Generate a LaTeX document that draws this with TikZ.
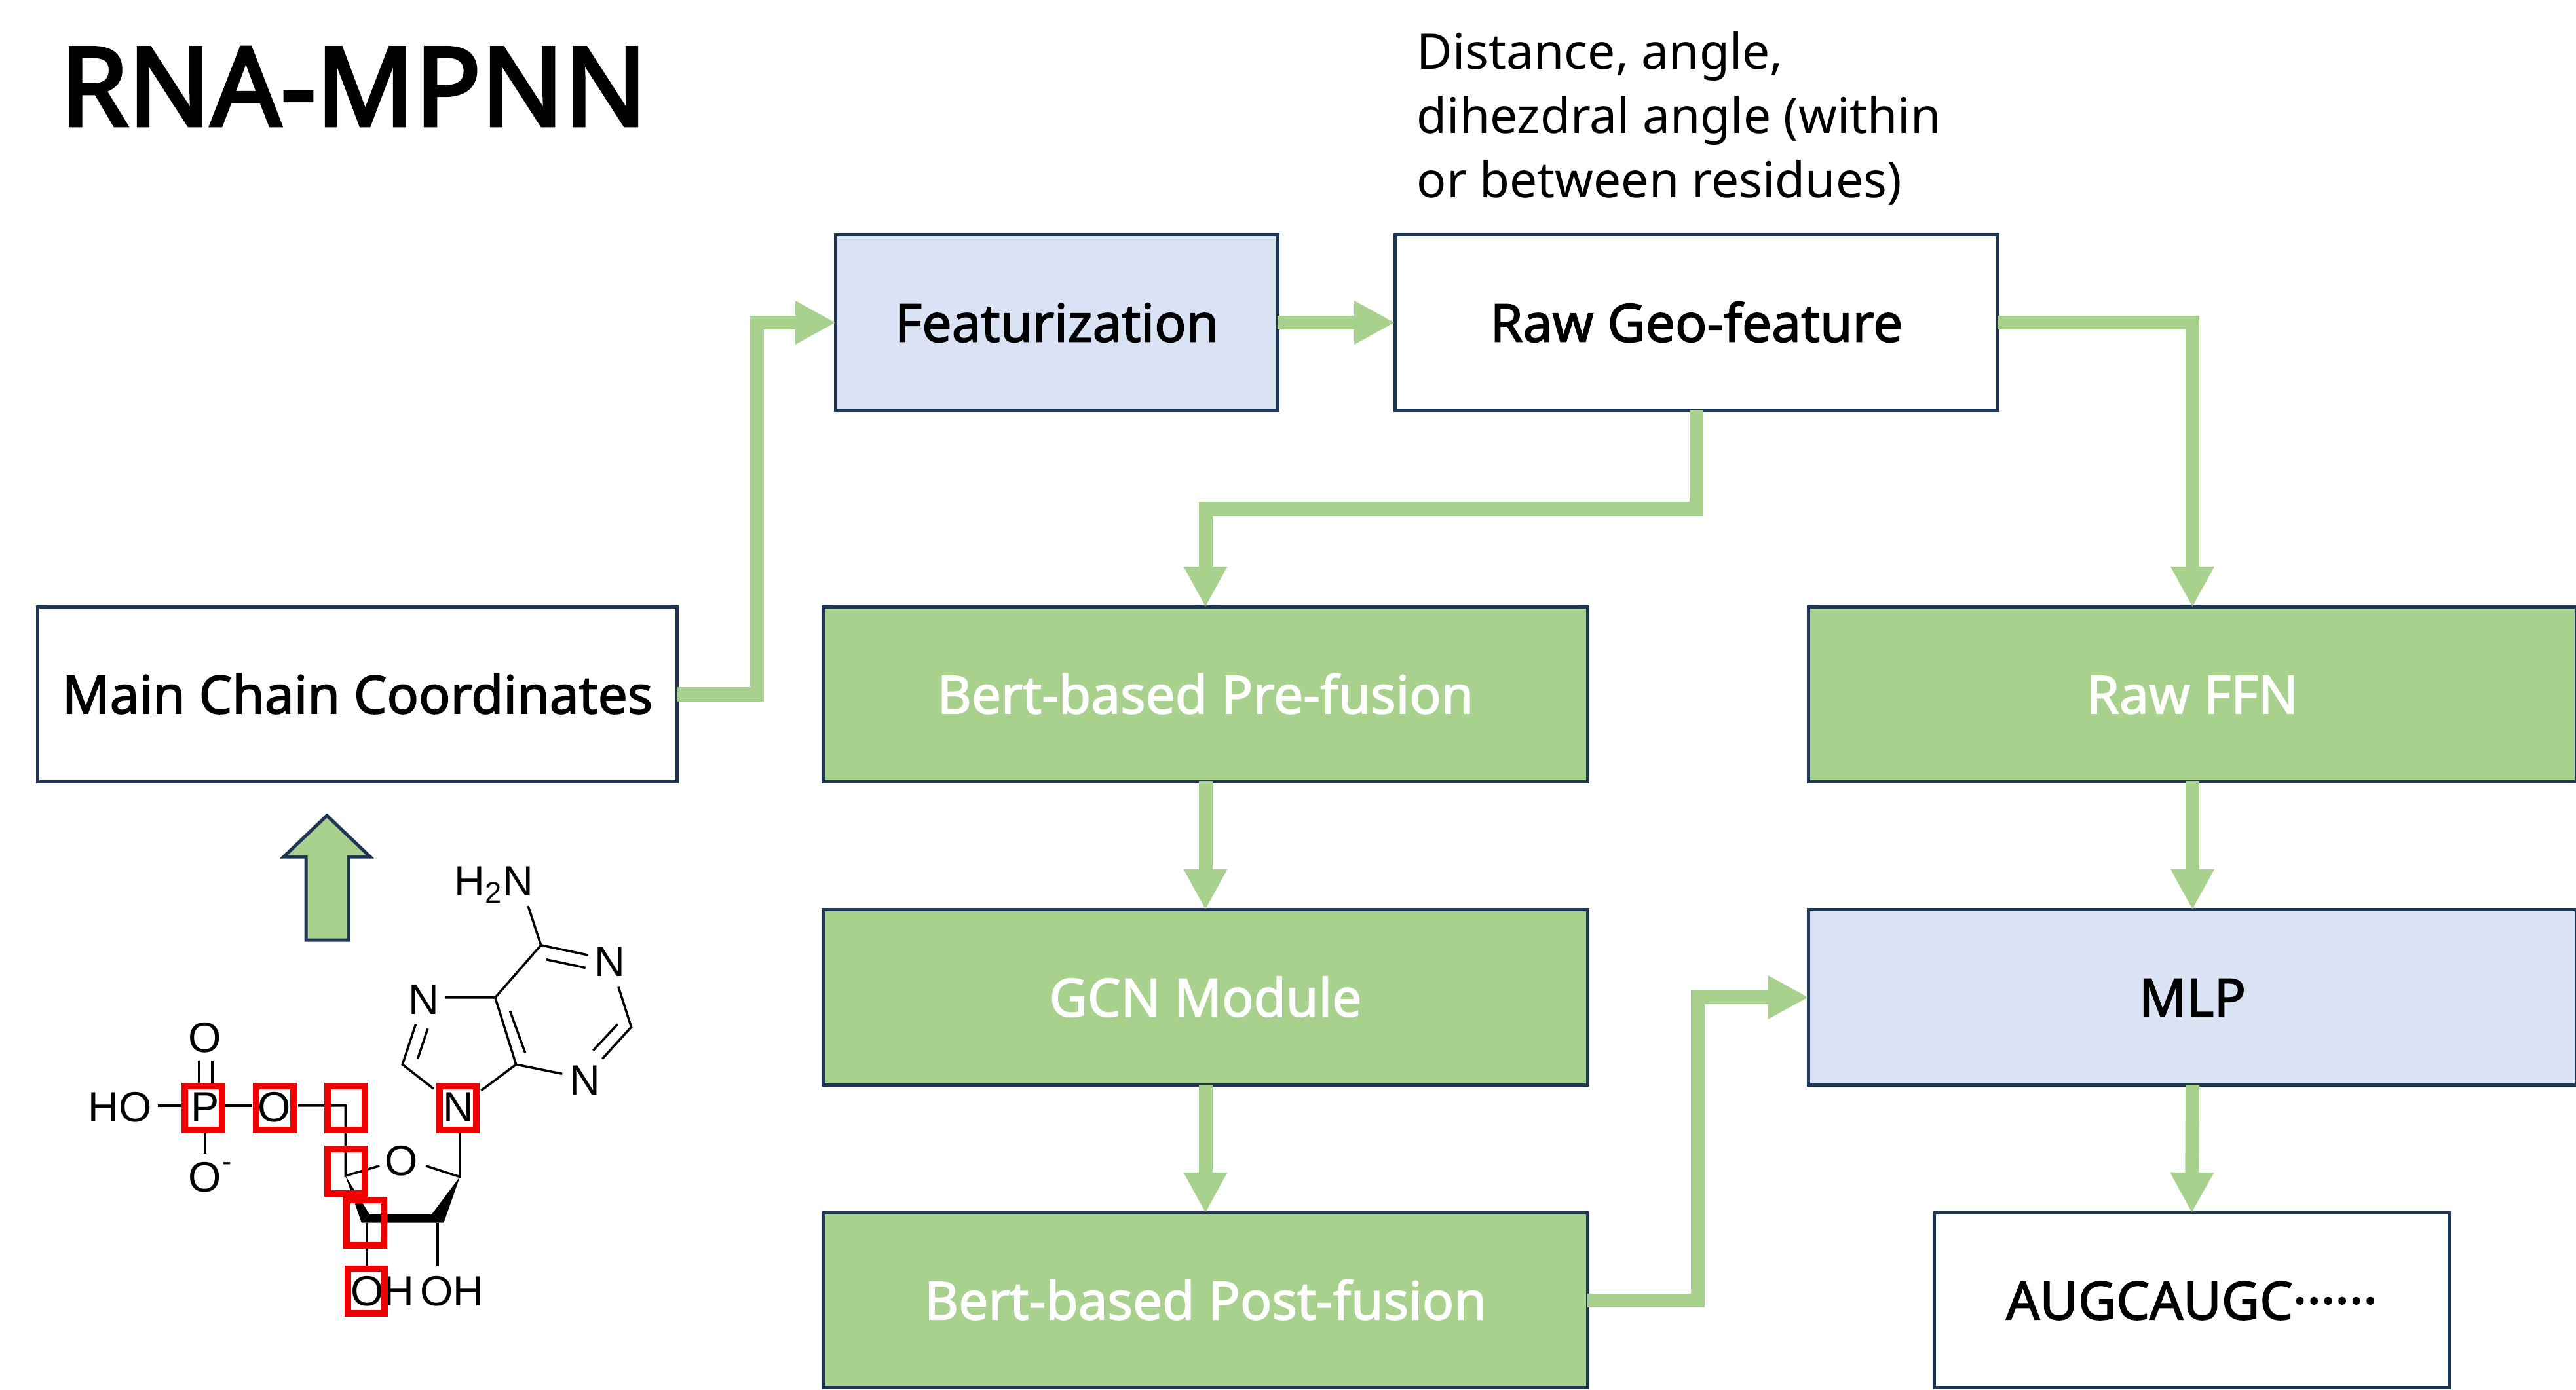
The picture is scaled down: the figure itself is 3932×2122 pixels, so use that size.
\documentclass[tikz,border=0pt]{standalone}
\usepackage{fontspec}
\setmainfont{Noto Sans}
\newfontfamily\molfont{Liberation Sans}
\newfontfamily\lblfont[FakeBold=2]{Noto Sans}
\newfontfamily\titlefont[FakeBold=3.2]{Noto Sans}
\usetikzlibrary{arrows.meta}
\definecolor{navy}{HTML}{1F3554}
\definecolor{boxgreen}{HTML}{A9D18E}
\definecolor{boxblue}{HTML}{DAE3F3}
\definecolor{molred}{HTML}{F00000}
\tikzset{
  flowbox/.style={draw=navy,line width=0.5mm,outer sep=0pt,inner sep=0pt,align=center,
    text height=16.6pt,text depth=0pt,
    font=\lblfont\fontsize{22.8}{27}\selectfont},
  whitebox/.style={flowbox,fill=white,text=black},
  bluebox/.style={flowbox,fill=boxblue,text=black},
  greenbox/.style={flowbox,fill=boxgreen,text=white},
  conn/.style={draw=boxgreen,line width=2.1mm,miter limit=10,-{Triangle[length=6.2mm,width=6.2mm]}},
  atom/.style={inner sep=0pt,outer sep=0pt,font=\molfont\fontsize{18.4}{20}\selectfont,text=black},
  bond/.style={draw=black,line width=0.35mm},
  hilite/.style={draw=molred,line width=1mm}
}
\begin{document}
\begin{tikzpicture}[x=0.01cm,y=-0.01cm]
\useasboundingbox (0,0) rectangle (3932,2122);
\fill[white] (0,0) rectangle (3932,2122);
\node[anchor=west,inner sep=0pt,font=\titlefont\fontsize{47.4}{50}\selectfont] (title) at (91,132) {RNA-MPNN};
\node[anchor=north west,inner sep=0pt,align=left,font=\fontsize{21.3}{27.8}\selectfont] (note) at (2162,48) {Distance, angle,\\dihezdral angle (within\\or between residues)};
\node[bluebox,minimum width=6.74cm,minimum height=2.67cm] (feat) at (1613,492.5) {Featurization};
\node[whitebox,minimum width=9.2cm,minimum height=2.67cm] (raw) at (2589.5,492.5) {Raw Geo-feature};
\node[whitebox,minimum width=9.76cm,minimum height=2.66cm] (main) at (545.5,1060) {Main Chain Coordinates};
\node[greenbox,minimum width=11.66cm,minimum height=2.66cm] (pre) at (1840,1060) {Bert-based Pre-fusion};
\node[greenbox,minimum width=11.66cm,minimum height=2.67cm] (gcn) at (1840,1522.5) {GCN Module};
\node[greenbox,minimum width=11.66cm,minimum height=2.66cm] (post) at (1840,1985) {Bert-based Post-fusion};
\node[greenbox,minimum width=11.71cm,minimum height=2.66cm] (ffn) at (3346.5,1060) {Raw FFN};
\node[bluebox,minimum width=11.71cm,minimum height=2.67cm] (mlp) at (3346.5,1522.5) {MLP};
\node[whitebox,minimum width=7.85cm,minimum height=2.66cm] (out) at (3345.5,1985) {AUGCAUGC······};
\coordinate (c1) at (1155,1060);
\coordinate (c2) at (0,777);
\coordinate (c3) at (2591,1985);
\draw[conn] (main.east) -- (c1) |- (feat.west);
\draw[conn] (feat.east) -- (raw.west);
\draw[conn] (raw.east) -| (ffn.north);
\draw[conn] (raw.south) -- (raw.south |- c2) -- (pre.north |- c2) -- (pre.north);
\draw[conn] (pre.south) -- (gcn.north);
\draw[conn] (gcn.south) -- (post.north);
\draw[conn] (ffn.south) -- (mlp.north);
\draw[conn] (mlp.south) -- (out.north);
\draw[conn] (post.east) -- (c3) |- (mlp.west);
\draw[fill=boxgreen,draw=navy,line width=0.5mm] (499,1245)--(433,1308)--(467,1308)--(467,1435)--(532,1435)--(532,1308)--(565,1308)--cycle;
\begin{scope}[x=0.06124mm,y=-0.05102mm,shift={(0.8cm,-12.2cm)}]
\node[atom] (h2n) at (1100,255) {H\textsubscript{2}N};
\node[atom] (n1) at (1388,485) {N};
\node[atom] (n3) at (1326,840) {N};
\node[atom] (n7) at (925,598) {N};
\node[atom] (n9) at (1012,920) {N};
\node[atom] (o4) at (870,1080) {O};
\node[atom] (o5) at (553,920) {O};
\node[atom] (p) at (380,920) {P};
\node[atom] (ho) at (168,920) {HO};
\node[atom] (odb) at (380,712) {O};
\node[atom] (om) at (380,1130) {O};
\node[atom,font=\molfont\fontsize{12}{14}\selectfont] (minus) at (435,1098) {-};
\node[atom] (oh3) at (822,1470) {OH};
\node[atom] (oh2) at (995,1470) {OH};
\coordinate (c6) at (1217,435); \coordinate (c2a) at (1442,680); \coordinate (c4) at (1155,792);
\coordinate (c5) at (1103,592); \coordinate (c8) at (872,792); \coordinate (c1p) at (1015,1128);
\coordinate (c4p) at (730,1125); \coordinate (c5p) at (730,915);
\draw[bond] (1185,318)--(c6) (c6)--(1335,465) (1230,478)--(1328,503);
\draw[bond] (1410,560)--(c2a)--(1370,775) (1408,672)--(1347,750);
\draw[bond] (1270,820)--(c4)--(c5) (1178,758)--(1140,632);
\draw[bond] (c5)--(c6) (c5)--(978,592);
\draw[bond] (905,672)--(c8)--(950,865) (935,685)--(910,775);
\draw[bond] (c4)--(1068,870);
\draw[bond] (1015,995)--(c1p)--(930,1095);
\draw[bond] (815,1095)--(c4p)--(c5p)--(612,915);
\draw[bond] (498,915)--(430,915) (262,915)--(320,915);
\draw[bond] (365,780)--(365,850) (398,780)--(398,850);
\draw[bond] (380,998)--(380,1058);
\draw[bond] (783,1265)--(783,1395) (960,1265)--(960,1395);
\fill[black] (c1p)--(945,1240)--(975,1265)--cycle;
\fill[black] (790,1240)--(945,1240)--(975,1265)--(770,1265)--cycle;
\fill[black] (c4p)--(790,1240)--(770,1265)--cycle;
\draw[hilite] (330,856) rectangle (422,987);
\draw[hilite] (508,856) rectangle (600,987);
\draw[hilite] (686,856) rectangle (778,987);
\draw[hilite] (686,1044) rectangle (778,1177);
\draw[hilite] (733,1198) rectangle (826,1332);
\draw[hilite] (736,1404) rectangle (828,1537);
\draw[hilite] (964,856) rectangle (1056,987);
\end{scope}
\end{tikzpicture}
\end{document}
